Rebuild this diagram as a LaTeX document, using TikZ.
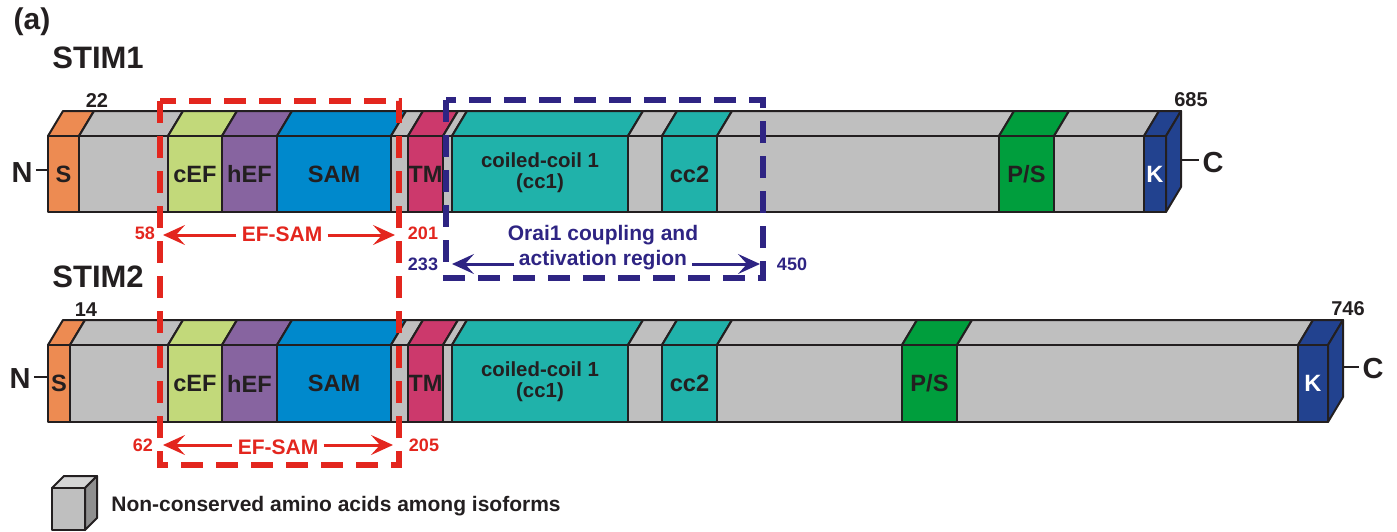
\documentclass[tikz,border=0pt]{standalone}
\usepackage{fontspec}
\setmainfont{Liberation Sans}
\usetikzlibrary{arrows.meta}

\definecolor{sorange}{RGB}{237,139,82}
\definecolor{ngray}{RGB}{191,191,191}
\definecolor{cefgreen}{RGB}{194,217,122}
\definecolor{hefpurple}{RGB}{135,100,160}
\definecolor{samblue}{RGB}{0,137,204}
\definecolor{tmred}{RGB}{204,57,108}
\definecolor{ccteal}{RGB}{32,178,170}
\definecolor{psgreen}{RGB}{0,158,61}
\definecolor{kblue}{RGB}{34,66,143}
\definecolor{efred}{RGB}{227,38,30}
\definecolor{orblue}{RGB}{46,36,131}
\definecolor{ink}{RGB}{35,31,32}

\tikzset{
  dom/.style={draw=ink,line width=1pt,line join=round},
  lab/.style={font=\bfseries\fontsize{11.8}{12}\selectfont,text=ink,inner sep=0pt},
  cclab/.style={font=\bfseries\fontsize{10.2}{10.5}\selectfont,text=ink,inner sep=0pt,align=center},
  numlab/.style={font=\bfseries\fontsize{10}{11}\selectfont,text=ink,inner sep=0pt,anchor=base},
  namelab/.style={font=\bfseries\fontsize{15.5}{16}\selectfont,text=ink,inner sep=0pt,anchor=base west},
  endlab/.style={font=\bfseries\fontsize{14.5}{15}\selectfont,text=ink,inner sep=1.5pt,anchor=base},
  redlab/.style={font=\bfseries\fontsize{9}{10}\selectfont,text=efred,inner sep=0pt,anchor=base},
  redname/.style={font=\bfseries\fontsize{10.5}{11}\selectfont,text=efred,inner sep=2.5pt,anchor=base},
  bluelab/.style={font=\bfseries\fontsize{9}{10}\selectfont,text=orblue,inner sep=0pt,anchor=base},
  bluename/.style={font=\bfseries\fontsize{10.5}{11}\selectfont,text=orblue,inner sep=2.5pt,anchor=base},
  redbox/.style={draw=efred,line width=2.7pt,dash pattern=on 11pt off 6.5pt},
  bluebox/.style={draw=orblue,line width=2.7pt,dash pattern=on 11pt off 6.5pt},
  rarr/.style={draw=efred,line width=1.5pt,-{Stealth[length=11pt,width=10pt,inset=4.5pt]}},
  barr/.style={draw=orblue,line width=1.5pt,-{Stealth[length=11pt,width=10pt,inset=4.5pt]}},
  tick/.style={draw=ink,line width=1pt}
}

\newcommand{\protseg}[5]{%
  \filldraw[dom,fill=#4] (#1,#3) -- (#1+15,#3-25) -- (#2+15,#3-25) -- (#2,#3) -- cycle;
  \filldraw[dom,fill=#4] (#1,#3) rectangle (#2,#5);
}

\begin{document}
\begin{tikzpicture}[x=0.5pt,y=-0.5pt]
\useasboundingbox (0,0) rectangle (1397,531);

\node[font=\bfseries\fontsize{15}{15}\selectfont,text=ink,inner sep=0pt] (panel) at (32,22) {(a)};
\node[namelab] (stim1) at (52,68) {STIM1};
\node[namelab] (stim2) at (52,287) {STIM2};

\foreach \a/\b/\c in {48/79/sorange,79/168/ngray,168/222/cefgreen,222/277/hefpurple,277/391/samblue,391/408/ngray,408/443/tmred,443/452/ngray,452/628/ccteal,628/662/ngray,662/717/ccteal,717/999/ngray,999/1054/psgreen,1054/1144/ngray,1144/1166/kblue}
  \protseg{\a}{\b}{136}{\c}{212};
\filldraw[dom,fill=kblue] (1166,136) -- (1181,111) -- (1181,187) -- (1166,212) -- cycle;

\foreach \a/\b/\c in {48/70/sorange,70/168/ngray,168/222/cefgreen,222/277/hefpurple,277/391/samblue,391/408/ngray,408/443/tmred,443/452/ngray,452/628/ccteal,628/662/ngray,662/717/ccteal,717/902/ngray,902/957/psgreen,957/1298/ngray,1298/1328/kblue}
  \protseg{\a}{\b}{345}{\c}{422};
\filldraw[dom,fill=kblue] (1328,345) -- (1343,320) -- (1343,397) -- (1328,422) -- cycle;

\node[lab] (s1) at (63.5,174) {S};
\node[lab] (cef1) at (195,174) {cEF};
\node[lab] (hef1) at (249.5,174) {hEF};
\node[lab] (sam1) at (334,174) {SAM};
\node[lab] (tm1) at (425.5,174) {TM};
\node[cclab] (cca1) at (540,173) {coiled-coil 1\\(cc1)};
\node[lab] (ccb1) at (689.5,174) {cc2};
\node[lab] (ps1) at (1026.5,174) {P/S};
\node[lab,text=white] (k1) at (1155,174) {K};

\node[lab] (s2) at (59,383.5) {S};
\node[lab] (cef2) at (195,383.5) {cEF};
\node[lab] (hef2) at (249.5,383.5) {hEF};
\node[lab] (sam2) at (334,383.5) {SAM};
\node[lab] (tm2) at (425.5,383.5) {TM};
\node[cclab] (cca2) at (540,382) {coiled-coil 1\\(cc1)};
\node[lab] (ccb2) at (689.5,383.5) {cc2};
\node[lab] (ps2) at (929.5,383.5) {P/S};
\node[lab,text=white] (k2) at (1313,383.5) {K};

\node[numlab] (n22) at (97,107) {22};
\node[numlab] (n685) at (1191,106) {685};
\node[numlab] (n14) at (86,316) {14};
\node[numlab] (n746) at (1348,315) {746};

\node[endlab] (nt1) at (22,182) {N};
\node[endlab] (ct1) at (1213,172) {C};
\node[endlab] (nt2) at (20,388) {N};
\node[endlab] (ct2) at (1373,378) {C};
\coordinate (nt1e) at (48,170);
\coordinate (ct1s) at (1181,160);
\coordinate (nt2e) at (48,377);
\coordinate (ct2s) at (1343,367);
\draw[tick] (nt1.east |- nt1e) -- (nt1e);
\draw[tick] (ct1s) -- (ct1.west |- ct1s);
\draw[tick] (nt2.east |- nt2e) -- (nt2e);
\draw[tick] (ct2s) -- (ct2.west |- ct2s);

\draw[redbox] (160,101) rectangle (399,465);
\draw[bluebox] (446,100) rectangle (763,278);

\node[redlab] (r58) at (145,239) {58};
\node[redlab] (r201) at (423,239) {201};
\node[redname] (efsam1) at (282,241) {EF-SAM};
\coordinate (ef1l) at (163,235);
\coordinate (ef1r) at (395,235);
\draw[rarr] (ef1l -| efsam1.west) -- (ef1l);
\draw[rarr] (ef1r -| efsam1.east) -- (ef1r);

\node[redlab] (r62) at (143,451) {62};
\node[redlab] (r205) at (424,451) {205};
\node[redname] (efsam2) at (278,454) {EF-SAM};
\coordinate (ef2l) at (163,445);
\coordinate (ef2r) at (393,445);
\draw[rarr] (ef2l -| efsam2.west) -- (ef2l);
\draw[rarr] (ef2r -| efsam2.east) -- (ef2r);

\node[bluelab] (b233) at (423,270) {233};
\node[bluelab] (b450) at (792,270) {450};
\node[bluename] (orai) at (603,240) {Orai1 coupling and};
\node[bluename] (actreg) at (603,265) {activation region};
\coordinate (orl) at (452,264);
\coordinate (orr) at (760,264);
\draw[barr] (orl -| actreg.west) -- (orl);
\draw[barr] (orr -| actreg.east) -- (orr);

\filldraw[dom,fill=ngray!65] (52,488) -- (64,476) -- (97,476) -- (85,488) -- cycle;
\filldraw[dom,fill=ngray!75!black] (85,488) -- (97,476) -- (97,518) -- (85,530) -- cycle;
\filldraw[dom,fill=ngray] (52,488) rectangle (85,530);
\node[font=\bfseries\fontsize{10.5}{11}\selectfont,text=ink,inner sep=0pt,anchor=base west] (legend) at (111,511) {Non-conserved amino acids among isoforms};

\end{tikzpicture}
\end{document}
